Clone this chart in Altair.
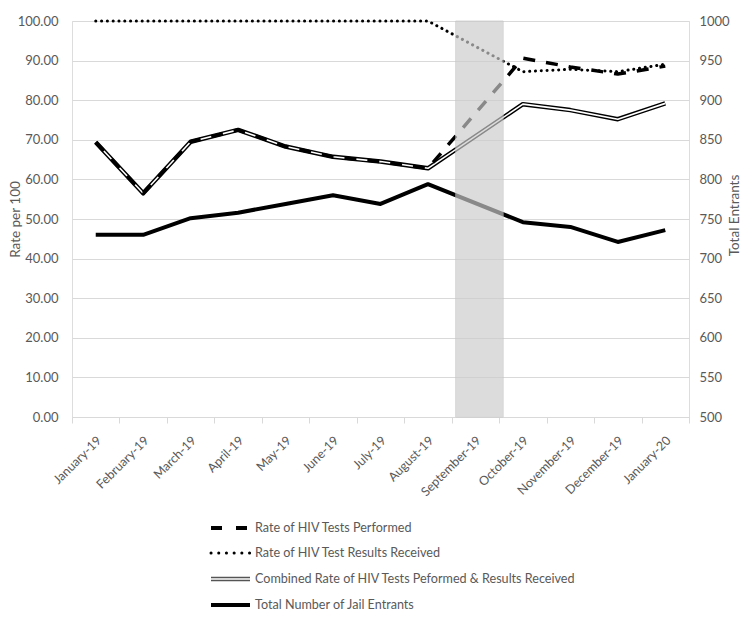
import altair as alt
import pandas as pd

# ---------------- data ----------------
months = ["January-19", "February-19", "March-19", "April-19", "May-19", "June-19",
          "July-19", "August-19", "September-19", "October-19", "November-19",
          "December-19", "January-20"]
performed = [69.4, 56.5, 69.5, 72.5, 68.3, 65.7, 64.5, 62.8, None, 90.6, 88.4, 86.6, 88.6]
received = [100.0, 100.0, 100.0, 100.0, 100.0, 100.0, 100.0, 100.0, None, 87.2, 87.8, 87.2, 89.1]
combined = [69.4, 56.5, 69.5, 72.5, 68.3, 65.7, 64.5, 62.8, None, 79.0, 77.5, 75.2, 79.2]
entrants = [730, 730, 751, 758, 769, 780, 769, 794, None, 746, 740, 721, 736]
shaded_months = ["September-19"]
legend_labels = ["Rate of HIV Tests Performed",
                 "Rate of HIV Test Results Received",
                 "Combined Rate of HIV Tests Peformed & Results Received",
                 "Total Number of Jail Entrants"]
rate_ticks = [0, 10, 20, 30, 40, 50, 60, 70, 80, 90, 100]
entrant_ticks = [500, 550, 600, 650, 700, 750, 800, 850, 900, 950, 1000]

# ---------------- layout ----------------
W, H = 617, 396
FONT = "Lato"
GREY_TXT = "#595959"
GRID = "#d9d9d9"
LEG_Y = [507, 532, 558, 584]
LEG_X0, LEG_X1, LEG_TX = 139, 178, 183


def series_df(values):
    return pd.DataFrame({"month": months, "value": values}).dropna()


def x_enc(center=True):
    kw = dict(
        sort=months,
        scale=alt.Scale(domain=months, type="band", paddingInner=0, paddingOuter=0),
        axis=alt.Axis(labelAngle=315, labelAlign="right", labelBaseline="middle",
                      labelPadding=15, labelOffset=3, tickBand="extent", ticks=True,
                      tickSize=6, tickColor=GRID, domainColor=GRID, grid=False,
                      labelOverlap=False, labelColor=GREY_TXT, labelFontSize=12.5,
                      labelFont=FONT),
        title=None,
    )
    if center:
        kw["bandPosition"] = 0.5
    return alt.X("month:N", **kw)


rate_y = alt.Y(
    "value:Q",
    scale=alt.Scale(domain=[0, 100], nice=False, zero=True),
    axis=alt.Axis(values=rate_ticks, format=".2f", grid=True, gridColor=GRID,
                  domain=False, ticks=False, labelPadding=14, labelColor=GREY_TXT,
                  labelFontSize=13, labelFont=FONT, title="Rate per 100",
                  titleX=-57, titleY=H / 2, titleAngle=270, titleAlign="center",
                  titleBaseline="middle", titleFontWeight="normal",
                  titleColor=GREY_TXT, titleFontSize=13.5, titleFont=FONT),
)

ent_y = alt.Y(
    "value:Q",
    scale=alt.Scale(domain=[500, 1000], nice=False, zero=False),
    axis=alt.Axis(orient="right", values=entrant_ticks, format="d", grid=False,
                  domain=False, ticks=False, labelPadding=10, labelColor=GREY_TXT,
                  labelFontSize=13, labelFont=FONT, title="Total Entrants",
                  titleX=45, titleY=194, titleAngle=270, titleAlign="center",
                  titleBaseline="middle", titleFontWeight="normal",
                  titleColor=GREY_TXT, titleFontSize=13.5, titleFont=FONT),
)

DASH = [12, 11]
DOT = [0.1, 5.7]

comb_outer = alt.Chart(series_df(combined)).mark_line(
    color="black", strokeWidth=4.5, strokeJoin="round").encode(x=x_enc(), y=rate_y)
comb_inner = alt.Chart(series_df(combined)).mark_line(
    color="white", strokeWidth=1.6, strokeJoin="round").encode(x=x_enc(), y=rate_y)
recv_line = alt.Chart(series_df(received)).mark_line(
    color="black", strokeWidth=3, strokeDash=DOT, strokeCap="round").encode(x=x_enc(), y=rate_y)
perf_line = alt.Chart(series_df(performed)).mark_line(
    color="black", strokeWidth=3.5, strokeDash=DASH, strokeJoin="round").encode(x=x_enc(), y=rate_y)

rates = alt.layer(comb_outer, comb_inner, recv_line, perf_line)

ent_line = alt.Chart(series_df(entrants)).mark_line(
    color="black", strokeWidth=4, strokeJoin="round").encode(x=x_enc(), y=ent_y)

shade = alt.Chart(pd.DataFrame({"month": shaded_months})).mark_rect(
    color="#cccccc", opacity=0.67, xOffset=4, x2Offset=4,
    stroke="#c4c4c4", strokeWidth=1).encode(
    x=x_enc(center=False), y=alt.value(0), y2=alt.value(H))

# ---------------- legend ----------------
leg_layers = []
styles = [
    [dict(color="black", strokeWidth=4, strokeDash=[11, 14])],
    [dict(color="black", strokeWidth=3, strokeDash=[0.1, 7.6], strokeCap="round")],
    [dict(color="#555555", strokeWidth=4.5), dict(color="white", strokeWidth=1.6)],
    [dict(color="black", strokeWidth=4)],
]
for i, lab in enumerate(legend_labels):
    d = pd.DataFrame({"label": [lab]})
    for st in styles[i]:
        leg_layers.append(alt.Chart(d).mark_rule(**st).encode(
            x=alt.value(LEG_X0), x2=alt.value(LEG_X1), y=alt.value(LEG_Y[i])))
    leg_layers.append(alt.Chart(d).mark_text(
        align="left", baseline="middle", font=FONT, fontSize=12.6, color=GREY_TXT).encode(
        x=alt.value(LEG_TX), y=alt.value(LEG_Y[i]), text="label:N"))

chart = alt.layer(rates, ent_line, shade, *leg_layers).resolve_scale(
    y="independent").properties(
    width=W, height=H,
    autosize=alt.AutoSizeParams(type="none"),
    padding={"left": 64, "top": 13, "right": 53, "bottom": 199},
).configure_view(stroke=None).configure(font=FONT)

chart.save("out.html", embed_options={"renderer": "svg", "actions": False})
